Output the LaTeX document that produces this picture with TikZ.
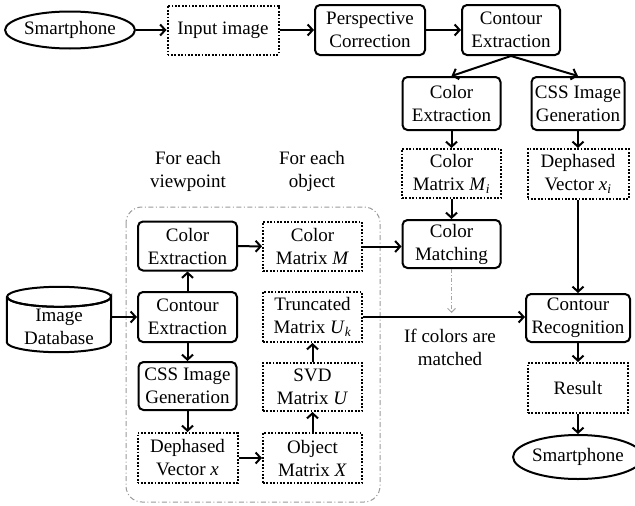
\documentclass[tikz,border=0pt]{standalone}
\usepackage{fontspec}
\setmainfont{Liberation Serif}
\usetikzlibrary{arrows.meta,shapes.geometric,calc}
\newcommand\mv[1]{\textit{#1}}
\begin{document}
\begin{tikzpicture}[x=1pt,y=-1pt,
  every node/.style={font=\fontsize{19}{23}\selectfont, align=center, inner sep=0pt, text=black},
  rbox/.style={draw, rounded corners=5pt, line width=2pt, minimum width=99pt, minimum height=49pt},
  dbox/.style={draw, line width=2pt, dash pattern=on 1.8pt off 1.6pt, minimum width=99pt, minimum height=49pt},
  oval/.style={draw, ellipse, line width=2pt},
  arr/.style={line width=2pt, -{Straight Barb[length=5pt,width=11pt,line width=2pt]}},
  garr/.style={line width=1pt, draw=gray!70, dash pattern=on 4pt off 2pt on 1pt off 2pt,
               -{Straight Barb[length=4pt,width=8pt,line width=1pt]}}
]
\useasboundingbox (0,0) rectangle (635,506);

% top row
\node[oval, minimum width=125pt, minimum height=37pt] (phone1) at (70,30) {Smartphone};
\node[dbox, minimum width=111pt] (input) at (223,30) {Input image};
\node[rbox, minimum width=110pt, minimum height=50pt] (persp) at (370,30) {Perspective\\Correction};
\node[rbox, minimum width=98pt, minimum height=50pt] (cont1) at (511,30) {Contour\\Extraction};

% query branch
\node[rbox, minimum width=98pt, minimum height=53pt] (colx1) at (451.5,103.5) {Color\\Extraction};
\node[rbox, minimum width=93pt, minimum height=53pt] (css1) at (578,103.5) {CSS Image\\Generation};
\node[dbox] (cmi) at (451.5,173.5) {Color\\Matrix \mv{M}\textsubscript{\mv{i}}};
\node[dbox, minimum width=101pt, minimum height=50pt] (dxi) at (578,174) {Dephased\\Vector \mv{x}\textsubscript{\mv{i}}};
\node[rbox, minimum width=98pt, minimum height=48pt] (match) at (451.5,244) {Color\\Matching};
\node[rbox, minimum width=104pt, minimum height=48pt] (recog) at (578,318) {Contour\\Recognition};
\node[dbox, minimum width=100pt, minimum height=50pt] (result) at (578,388) {Result};
\node[oval, minimum width=108pt, minimum height=44pt] (phone2) at (578,457) {Smartphone};
\coordinate (gate) at (451.5,313);
\node (cond) at (450,347) {If colors are\\matched};

% database
\node[minimum width=104pt, minimum height=65pt] (db) at (59,319.5) {};
\draw[line width=2pt] ($(db.north west)+(0,10)$) -- ($(db.south west)+(0,-10)$)
   arc[start angle=180, end angle=360, x radius=52pt, y radius=10pt]
   -- ($(db.north east)+(0,10)$)
   arc[start angle=0, end angle=-180, x radius=52pt, y radius=10pt];
\draw[line width=2pt] ($(db.north)+(0,10)$) ellipse[x radius=52pt, y radius=10pt];
\node at (59,327) {Image\\Database};

% per-object container
\node (hdrA) at (188,171) {For each\\viewpoint};
\node (hdrB) at (312,171) {For each\\object};
\draw[draw=gray!80, line width=1pt, rounded corners=16pt,
      dash pattern=on 5pt off 2.5pt on 1pt off 2.5pt] (126,207) rectangle (380,502);

\node[rbox] (colx2) at (187.5,246) {Color\\Extraction};
\node[dbox] (cm) at (312.5,246.5) {Color\\Matrix \mv{M}};
\node[rbox, minimum height=50pt] (cont2) at (187.5,317) {Contour\\Extraction};
\node[dbox, minimum height=50pt] (trunc) at (312.5,317) {Truncated\\Matrix \mv{U}\textsubscript{\mv{k}}};
\node[rbox, minimum width=98pt, minimum height=48pt] (css2) at (187.5,386) {CSS Image\\Generation};
\node[dbox, minimum height=48pt] (svd) at (312.5,387) {SVD\\Matrix \mv{U}};
\node[dbox, minimum width=100pt, minimum height=50pt] (dx) at (187.5,458) {Dephased\\Vector \mv{x}};
\node[dbox, minimum height=50pt] (objm) at (312.5,458) {Object\\Matrix \mv{X}};

% connectors
\draw[arr] (phone1) -- (input);
\draw[arr] (input) -- (persp);
\draw[arr] (persp) -- (cont1);
\draw[arr] (cont1.south) -- (colx1.north);
\draw[arr] (cont1.south) -- (css1.north);
\draw[arr] (colx1) -- (cmi);
\draw[arr] (css1) -- (dxi);
\draw[arr] (cmi) -- (match);
\draw[arr] (dxi) -- (recog);
\draw[arr] (recog) -- (result);
\draw[arr] (result) -- (phone2);
\draw[garr] (match.south) -- (gate);

\draw[arr] (db.east |- cont2.west) -- (cont2.west);
\draw[arr] (cont2) -- (colx2);
\draw[arr] (cont2) -- (css2);
\draw[arr] (css2) -- (dx);
\draw[arr] (dx) -- (objm);
\draw[arr] (objm) -- (svd);
\draw[arr] (svd) -- (trunc);
\draw[arr] (colx2) -- (cm);
\draw[arr] (cm.east) -- (cm.east -| match.west);
\draw[arr] (trunc.east) -- (trunc.east -| recog.west);
\end{tikzpicture}
\end{document}
